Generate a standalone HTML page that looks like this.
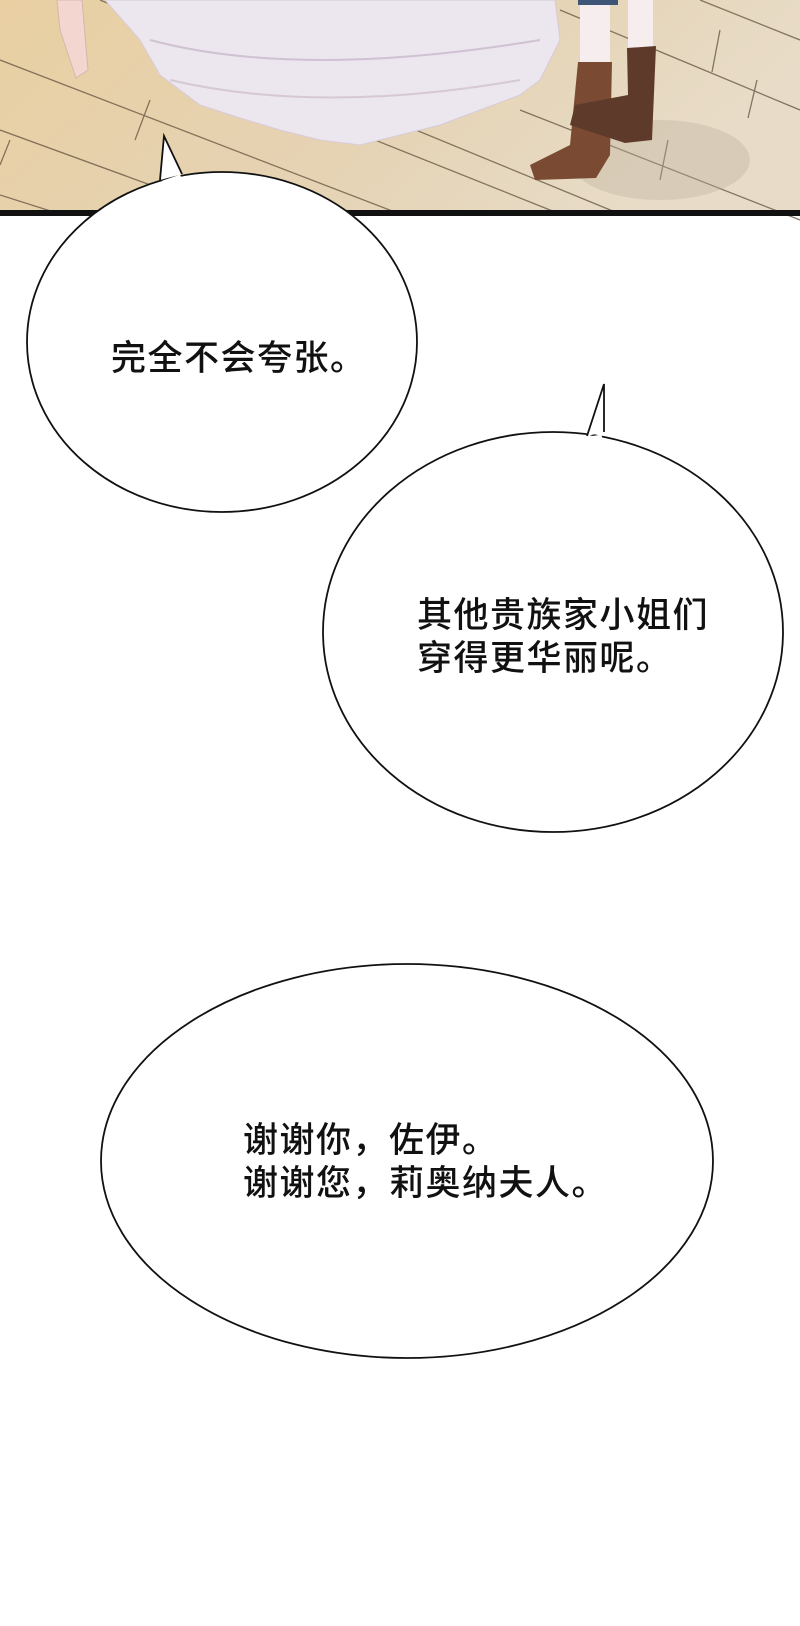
<!DOCTYPE html>
<html><head><meta charset="utf-8"><style>
html,body{margin:0;padding:0;background:#fff;}
body{width:800px;height:1626px;position:relative;overflow:hidden;}
.t{position:absolute;font-family:"Liberation Sans","Noto Sans CJK SC",sans-serif;font-size:35px;font-weight:500;letter-spacing:1.5px;line-height:43px;color:#111;white-space:nowrap;}
</style></head><body>
<svg width="800" height="1626" style="position:absolute;left:0;top:0">
<defs>
<linearGradient id="fl" x1="0" y1="0" x2="1" y2="0.3">
<stop offset="0" stop-color="#e9cfa2"/><stop offset="0.6" stop-color="#e5d3b4"/><stop offset="1" stop-color="#e8dcc8"/>
</linearGradient>
</defs>
<rect x="0" y="0" width="800" height="214" fill="url(#fl)"/>
<g stroke="#6b5a45" stroke-width="1.3" fill="none" opacity="0.8">
<line x1="0" y1="60" x2="400" y2="214"/>
<line x1="0" y1="130" x2="230" y2="214"/>
<line x1="0" y1="195" x2="60" y2="214"/>
<line x1="100" y1="0" x2="620" y2="214"/>
<line x1="300" y1="110" x2="560" y2="214"/>
<line x1="560" y1="10" x2="800" y2="110"/>
<line x1="520" y1="110" x2="800" y2="220"/>
<line x1="700" y1="0" x2="800" y2="40"/>
<line x1="150" y1="100" x2="135" y2="140"/>
<line x1="10" y1="140" x2="0" y2="165"/>
<line x1="668" y1="140" x2="660" y2="180"/>
<line x1="720" y1="30" x2="712" y2="72"/>
<line x1="757" y1="80" x2="748" y2="118"/>
</g>
<ellipse cx="660" cy="160" rx="90" ry="40" fill="#b9ae9e" opacity="0.35"/>
<path d="M105,0 L555,0 L560,40 L540,80 L520,95 L480,110 L440,125 L400,135 L360,145 L320,140 L280,130 L240,118 L200,105 L160,75 L140,40 Z" fill="#ece6ee" stroke="#d8cbd8" stroke-width="1"/>
<path d="M150,40 Q300,80 540,40" stroke="#cfc2d2" stroke-width="2" fill="none"/>
<path d="M170,80 Q320,115 520,80" stroke="#d6c8d4" stroke-width="2" fill="none"/>
<path d="M57,0 L82,0 L88,70 L76,78 L60,30 Z" fill="#f3d6cf" stroke="#d9b5ab"/>
<rect x="580" y="0" width="30" height="62" fill="#f6eeee"/>
<rect x="628" y="0" width="25" height="50" fill="#f6eeee"/>
<rect x="578" y="0" width="40" height="5" fill="#3f5578"/>
<path d="M578,62 L612,62 L610,155 L596,178 L535,180 L530,165 L570,145 Z" fill="#7a4a33"/>
<path d="M627,48 L656,46 L652,140 L625,143 L570,125 L575,105 L628,95 Z" fill="#5e3a2a"/>
<rect x="0" y="210" width="800" height="6" fill="#111"/>
<g fill="#fff" stroke="#111" stroke-width="1.8">
<ellipse cx="222" cy="342" rx="195" ry="170"/>
<ellipse cx="553" cy="632" rx="230" ry="200"/>
<ellipse cx="407" cy="1161" rx="306" ry="197"/>
</g>
<path d="M160,180 L164,136 L182,174" fill="#fff" stroke="#111" stroke-width="1.8"/>
<path d="M163,183 L181,177" stroke="#fff" stroke-width="5"/>
<path d="M587,436 L604,384 L604,432" fill="#fff" stroke="#111" stroke-width="1.8"/>
<path d="M590,439 L602,437" stroke="#fff" stroke-width="5"/>
</svg>
<div class="t" style="left:111px;top:337px;">完全不会夸张。</div>
<div class="t" style="left:417px;top:594px;">其他贵族家小姐们<br>穿得更华丽呢。</div>
<div class="t" style="left:243px;top:1119px;">谢谢你，佐伊。<br>谢谢您，莉奥纳夫人。</div>
</body></html>
